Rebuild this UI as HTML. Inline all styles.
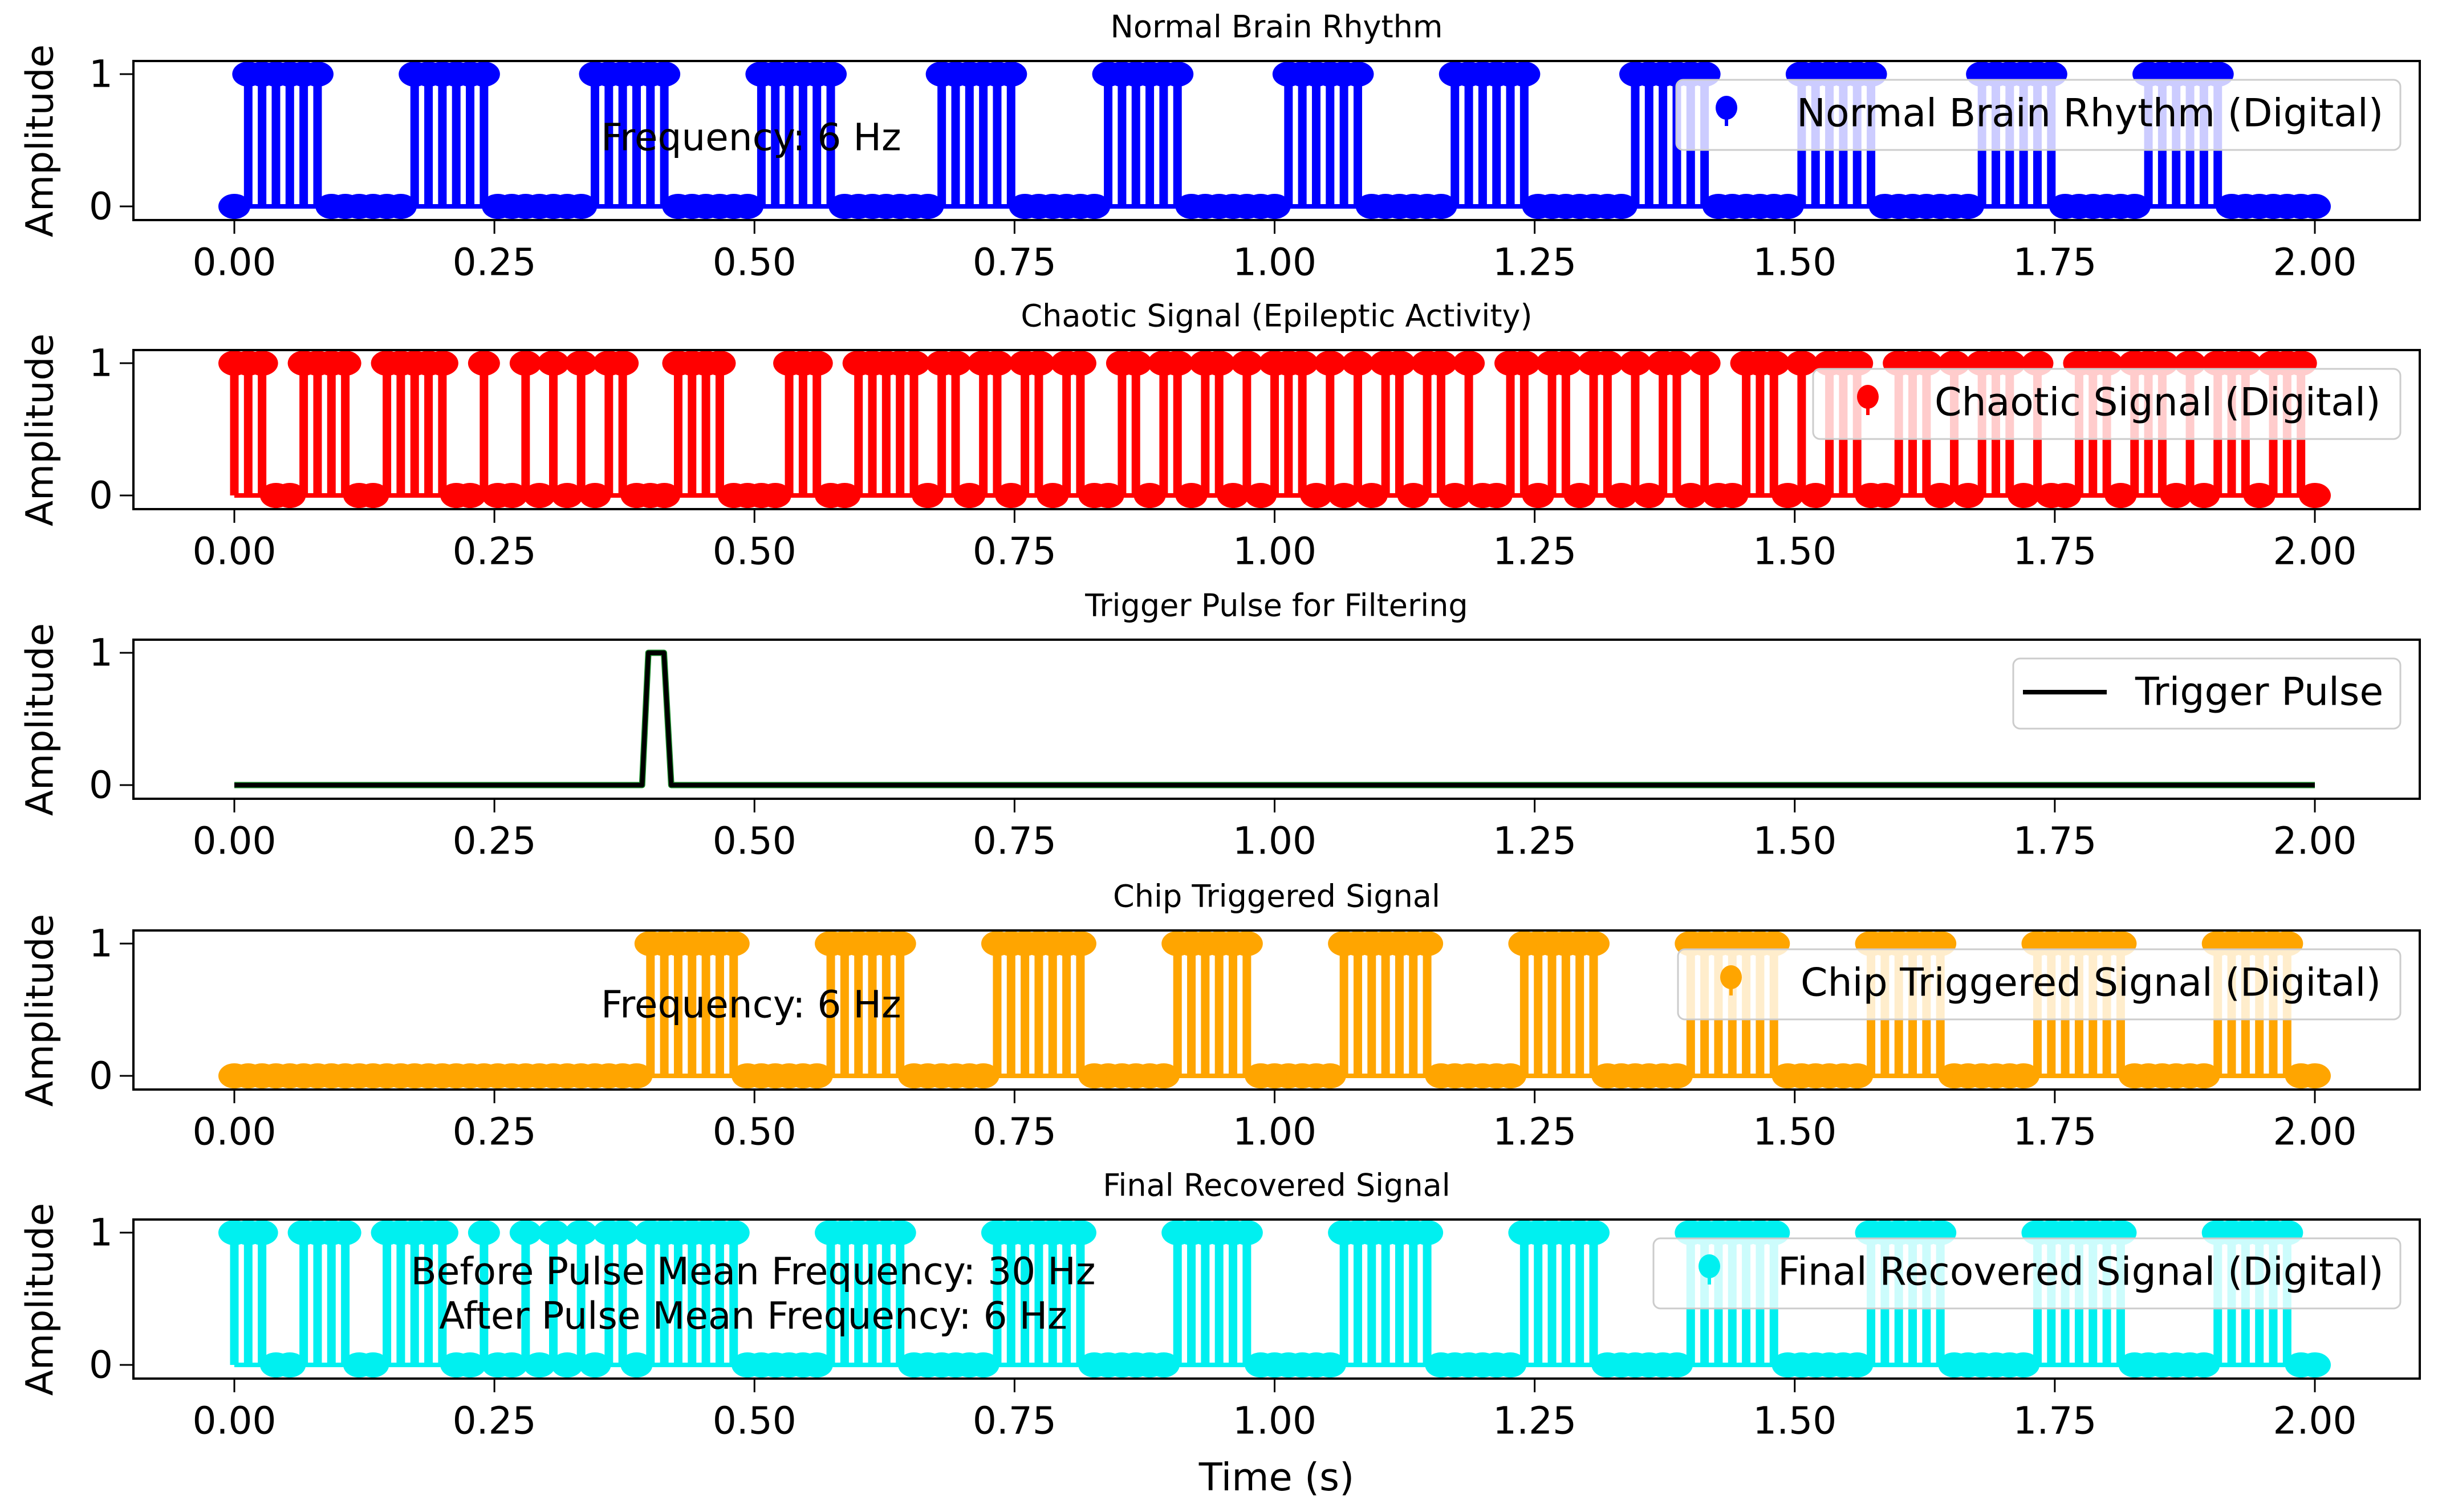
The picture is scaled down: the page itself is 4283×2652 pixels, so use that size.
<!DOCTYPE html>
<html><head><meta charset="utf-8"><title>Brain signal chart</title>
<style>
html,body{margin:0;padding:0;background:#fff;}
svg{display:block;}
text{font-family:"DejaVu Sans","Liberation Sans",sans-serif;fill:#000;}
</style></head>
<body>
<svg id="chart" width="4283" height="2652" viewBox="0 0 4283 2652" xmlns="http://www.w3.org/2000/svg">
<rect width="4283" height="2652" fill="#fff"/>
</svg>
<script>
// ---------- data ----------
const sampleCount = 151;           // samples over 0..2 s
const xTickLabels = ["0.00","0.25","0.50","0.75","1.00","1.25","1.50","1.75","2.00"];
const xTickValues = [0,0.25,0.5,0.75,1.0,1.25,1.5,1.75,2.0];
const yTickValues = [0,1];
const yTickLabels = ["0","1"];
const normalValues = [0,1,1,1,1,1,1,0,0,0,0,0,0,1,1,1,1,1,1,0,0,0,0,0,0,0,1,1,1,1,1,1,0,0,0,0,0,0,1,1,1,1,1,1,0,0,0,0,0,0,0,1,1,1,1,1,1,0,0,0,0,0,0,1,1,1,1,1,1,0,0,0,0,0,0,0,1,1,1,1,1,1,0,0,0,0,0,0,1,1,1,1,1,1,0,0,0,0,0,0,0,1,1,1,1,1,1,0,0,0,0,0,0,1,1,1,1,1,1,0,0,0,0,0,0,0,1,1,1,1,1,1,0,0,0,0,0,0,1,1,1,1,1,1,0,0,0,0,0,0,0];
const chaoticValues = [1,1,1,0,0,1,1,1,1,0,0,1,1,1,1,1,0,0,1,0,0,1,0,1,0,1,0,1,1,0,0,0,1,1,1,1,0,0,0,0,1,1,1,0,0,1,1,1,1,1,0,1,1,0,1,1,0,1,1,0,1,1,0,0,1,1,0,1,1,0,1,1,0,1,0,1,1,1,0,1,0,1,0,1,1,0,1,1,0,1,0,0,1,1,0,1,1,0,1,1,0,1,0,1,1,0,1,0,0,1,1,1,0,1,0,1,1,1,0,0,1,1,1,0,1,0,1,1,1,0,1,0,0,1,1,1,0,1,1,1,0,1,0,1,1,1,0,1,1,1,0];
const chipValues = [0,0,0,0,0,0,0,0,0,0,0,0,0,0,0,0,0,0,0,0,0,0,0,0,0,0,0,0,0,0,1,1,1,1,1,1,1,0,0,0,0,0,0,1,1,1,1,1,1,0,0,0,0,0,0,1,1,1,1,1,1,1,0,0,0,0,0,0,1,1,1,1,1,1,0,0,0,0,0,0,1,1,1,1,1,1,1,0,0,0,0,0,0,1,1,1,1,1,1,0,0,0,0,0,0,1,1,1,1,1,1,1,0,0,0,0,0,0,1,1,1,1,1,1,0,0,0,0,0,0,1,1,1,1,1,1,1,0,0,0,0,0,0,1,1,1,1,1,1,0,0];
const finalValues = [1,1,1,0,0,1,1,1,1,0,0,1,1,1,1,1,0,0,1,0,0,1,0,1,0,1,0,1,1,0,1,1,1,1,1,1,1,0,0,0,0,0,0,1,1,1,1,1,1,0,0,0,0,0,0,1,1,1,1,1,1,1,0,0,0,0,0,0,1,1,1,1,1,1,0,0,0,0,0,0,1,1,1,1,1,1,1,0,0,0,0,0,0,1,1,1,1,1,1,0,0,0,0,0,0,1,1,1,1,1,1,1,0,0,0,0,0,0,1,1,1,1,1,1,0,0,0,0,0,0,1,1,1,1,1,1,1,0,0,0,0,0,0,1,1,1,1,1,1,0,0];
const triggerTimes = [0,0.392,0.398,0.413,0.420,2.0];
const triggerValues = [0,0,1,1,0,0];

// ---------- layout ----------
const NS = "http://www.w3.org/2000/svg";
const svg = document.getElementById('chart');
const AX_L = 234, AX_R = 4244, AX_H = 279;
const X0 = 411, XU = 1824.5;
function xs(t){ return X0 + t*XU; }
function ys(top,v){ return top + 23 + (1 - v)*232; }
function el(tag, attrs, parent){
  const e = document.createElementNS(NS, tag);
  for (const k in attrs) e.setAttribute(k, attrs[k]);
  (parent||svg).appendChild(e);
  return e;
}
function txt(parent, x, y, s, size, anchor, sx){
  const t = document.createElementNS(NS,'text');
  t.setAttribute('transform','translate('+x+','+y+') scale('+(sx||1)+',1)');
  t.setAttribute('font-size', size);
  t.setAttribute('text-anchor', anchor||'start');
  t.setAttribute('dominant-baseline','central');
  t.textContent = s;
  parent.appendChild(t);
  return t;
}

const panels = [
  {key:'normal', top:107, title:'Normal Brain Rhythm', color:'#0000ff', values:normalValues, legend:'Normal Brain Rhythm (Digital)', lx:2940, mx:3028, tx:3151},
  {key:'chaotic', top:614, title:'Chaotic Signal (Epileptic Activity)', color:'#ff0000', values:chaoticValues, legend:'Chaotic Signal (Digital)', lx:3180, mx:3276, tx:3393},
  {key:'trigger', top:1122, title:'Trigger Pulse for Filtering', color:'#000', values:null, legend:'Trigger Pulse', lx:3531, mx:3548, tx:3745},
  {key:'chip', top:1632, title:'Chip Triggered Signal', color:'#ffa500', values:chipValues, legend:'Chip Triggered Signal (Digital)', lx:2943, mx:3036, tx:3158},
  {key:'final', top:2139, title:'Final Recovered Signal', color:'#00f0f0', values:finalValues, legend:'Final Recovered Signal (Digital)', lx:2900, mx:2998, tx:3118}
];

panels.forEach(function(p){
  const g = el('g', {});
  
  
  const top = p.top;
  const clipId = 'clip-' + p.key;
  const cp = el('clipPath', {id: clipId}, g);
  el('rect', {x:AX_L, y:top, width:AX_R-AX_L, height:AX_H}, cp);

  const tt = txt(g, (AX_L+AX_R)/2, top-60, p.title, 54, 'middle');
  
  

  const yl = document.createElementNS(NS,'text');
  yl.setAttribute('transform','translate(70,'+(top+140)+') rotate(-90)');
  yl.setAttribute('font-size', 66);
  yl.setAttribute('text-anchor','middle');
  yl.setAttribute('dominant-baseline','central');
  yl.textContent = 'Amplitude';
  
  
  g.appendChild(yl);

  const dg = el('g', {'clip-path':'url(#'+clipId+')'}, g);
  
  
  if (p.values){
    const n = p.values.length;
    for (let i=0;i<n;i++){
      const v = p.values[i];
      if (v !== 0){
        const t = 2*i/(n-1);
        const s = el('line', {x1:xs(t), x2:xs(t), y1:ys(top,0), y2:ys(top,v), stroke:p.color, 'stroke-width':15}, dg);
        
        
      }
    }
    const b = el('line', {x1:xs(0), x2:xs(2), y1:ys(top,0), y2:ys(top,0), stroke:p.color, 'stroke-width':8}, dg);
    
    
    for (let i=0;i<n;i++){
      const v = p.values[i];
      const t = 2*i/(n-1);
      const c = el('ellipse', {cx:xs(t), cy:ys(top,v), rx:28, ry:22, fill:p.color}, dg);
      
      
    }
  } else {
    let d = '';
    for (let i=0;i<triggerTimes.length;i++){
      d += (i?'L':'M') + xs(triggerTimes[i]) + ' ' + ys(top, triggerValues[i]) + ' ';
    }
    const under = el('path', {d:d, fill:'none', stroke:'#1a8a2a', 'stroke-width':11, 'stroke-linejoin':'round'}, dg);
    
    
    const ln = el('path', {d:d, fill:'none', stroke:'#000', 'stroke-width':8, 'stroke-linejoin':'round'}, dg);
    
    
  }

  const fr = el('rect', {x:AX_L, y:top, width:AX_R-AX_L, height:AX_H, fill:'none', stroke:'#000', 'stroke-width':4}, g);
  
  

  xTickValues.forEach(function(tv, k){
    const x = xs(tv);
    const tk = el('line', {x1:x, x2:x, y1:top+AX_H, y2:top+AX_H+24, stroke:'#000', 'stroke-width':3}, g);
    
    
    const lb = txt(g, x, top+353, xTickLabels[k], 66, 'middle');
    
    
  });
  yTickValues.forEach(function(v, k){
    const y = ys(top, v);
    const tk = el('line', {x1:AX_L-24, x2:AX_L, y1:y, y2:y, stroke:'#000', 'stroke-width':3}, g);
    
    
    const lb = txt(g, AX_L-36, y, yTickLabels[k], 66, 'end');
    
    
  });

  const lg = el('g', {}, g);
  
  
  el('rect', {x:p.lx, y:top+33, width:4210-p.lx, height:123, rx:12, ry:12, fill:'#fff', 'fill-opacity':0.8, stroke:'#cccccc', 'stroke-width':3}, lg);
  const ly = top + 92;
  if (p.values){
    el('line', {x1:p.mx, x2:p.mx, y1:ly-10, y2:ly+22, stroke:p.color, 'stroke-width':6}, lg);
    el('ellipse', {cx:p.mx, cy:ly-10, rx:19, ry:21, fill:p.color}, lg);
  } else {
    el('line', {x1:p.mx, x2:p.mx+147, y1:ly, y2:ly, stroke:'#000', 'stroke-width':8}, lg);
  }
  const lt = txt(lg, p.tx, ly, p.legend, 68, 'start');
  
  
});

function note(x, y, s, anchor, name){
  const t = txt(svg, x, y, s, 66, anchor);
  
  
}
note(1054, 241, 'Frequency: 6 Hz', 'start', 'normal-frequency-annotation');
note(1054, 1762, 'Frequency: 6 Hz', 'start', 'chip-frequency-annotation');
note(1321, 2230, 'Before Pulse Mean Frequency: 30 Hz', 'middle', 'before-pulse-annotation');
note(1321, 2308, 'After Pulse Mean Frequency: 6 Hz', 'middle', 'after-pulse-annotation');

const xt = txt(svg, 2239, 2591, 'Time (s)', 67, 'middle');


</script>
</body></html>
